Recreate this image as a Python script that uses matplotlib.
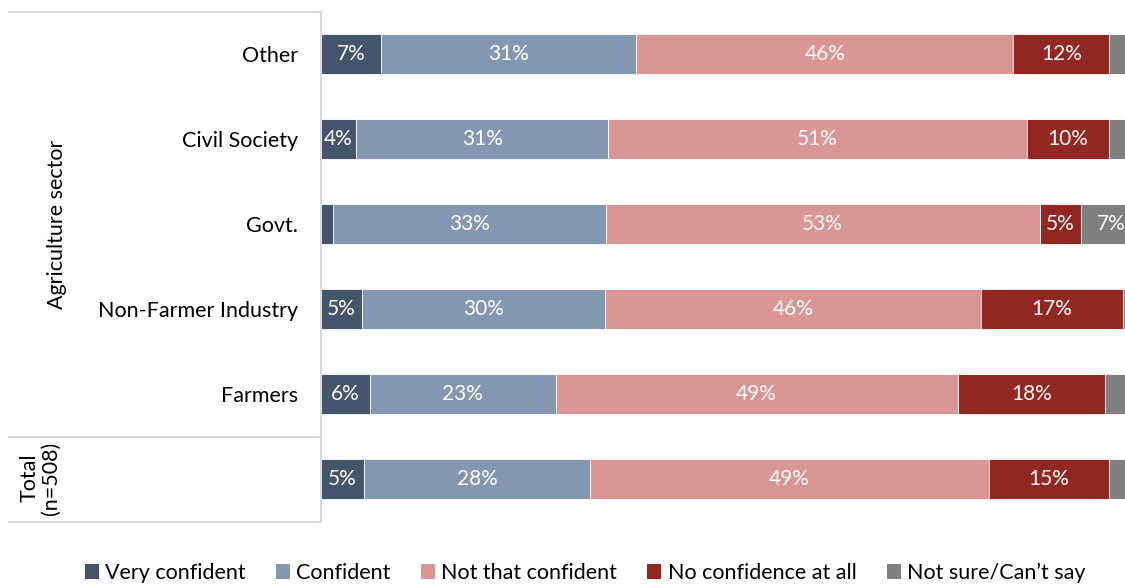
import numpy as np
import matplotlib.pyplot as plt
from matplotlib.patches import Patch

plt.rcParams['font.family'] = ['Lato', 'DejaVu Sans']

# Data (percent of respondents)
groups = ['Other', 'Civil Society', 'Govt.', 'Non-Farmer Industry', 'Farmers', '']
very_confident = [7.3, 4.3, 1.5, 5.0, 6.0, 5.2]
confident = [31.1, 30.7, 33.2, 29.6, 22.6, 27.6]
not_that_confident = [46.0, 51.0, 52.9, 45.8, 49.0, 48.6]
no_confidence = [11.7, 10.1, 5.0, 17.3, 18.0, 14.6]
not_sure = [3.9, 3.9, 7.4, 2.3, 4.4, 4.0]

series = [very_confident, confident, not_that_confident, no_confidence, not_sure]
names = ['Very confident', 'Confident', 'Not that confident', 'No confidence at all', 'Not sure/Can\u2019t say']
colors = ['#44546A', '#8497B0', '#DA9694', '#922722', '#7F7F7F']

fig = plt.figure(figsize=(11.25, 5.84), dpi=100)
ax = fig.add_axes([321 / 1125, 1 - 521.5 / 584, 1 - 321 / 1125, 510 / 584])

y = np.arange(len(groups))
left = np.zeros(len(groups))
for vals, name, col in zip(series, names, colors):
    vals = np.array(vals)
    ax.barh(y, vals, left=left, height=0.46, color=col, edgecolor='white', linewidth=0.6, label=name)
    for yi, (l, v) in enumerate(zip(left, vals)):
        c = l + v / 2
        if v >= 4 and c < 97:
            ax.text(c, yi, f'{round(v):.0f}%', ha='center', va='center', color='white', fontsize=15)
    left += vals

ax.set_xlim(0, 98)
ax.set_ylim(5.5, -0.5)
ax.set_xticks([])
ax.set_yticks(y)
ax.set_yticklabels(groups, fontsize=15.5)
ax.tick_params(axis='y', length=0, pad=16.5)
for s in ['top', 'right', 'bottom']:
    ax.spines[s].set_visible(False)
ax.spines['left'].set_color('#D9D9D9')
ax.spines['left'].set_linewidth(1.5)

# grouping lines on the left
tr = ax.get_yaxis_transform()
x0 = (9 - 321) / 804
for yy in [-0.5, 4.5, 5.5]:
    ax.plot([x0, 0], [yy, yy], color='#D9D9D9', lw=1.5, transform=tr, clip_on=False)

fig.text(57 / 1125, 1 - 224 / 584, 'Agriculture sector', rotation=90, ha='center', va='center', fontsize=15.5)
fig.text(40 / 1125, 1 - 478 / 584, 'Total\n(n=508)', rotation=90, ha='center', va='center',
         multialignment='center', fontsize=15.5, linespacing=1.1)

handles = [Patch(facecolor=c, edgecolor='none') for c in colors]
fig.legend(handles, names, loc='center', bbox_to_anchor=(585 / 1125, 1 - 573 / 584), ncol=5,
           frameon=False, fontsize=15.5, handlelength=0.65, handleheight=0.65, handletextpad=0.3,
           columnspacing=1.4)

fig.savefig('out.png', dpi=100)
